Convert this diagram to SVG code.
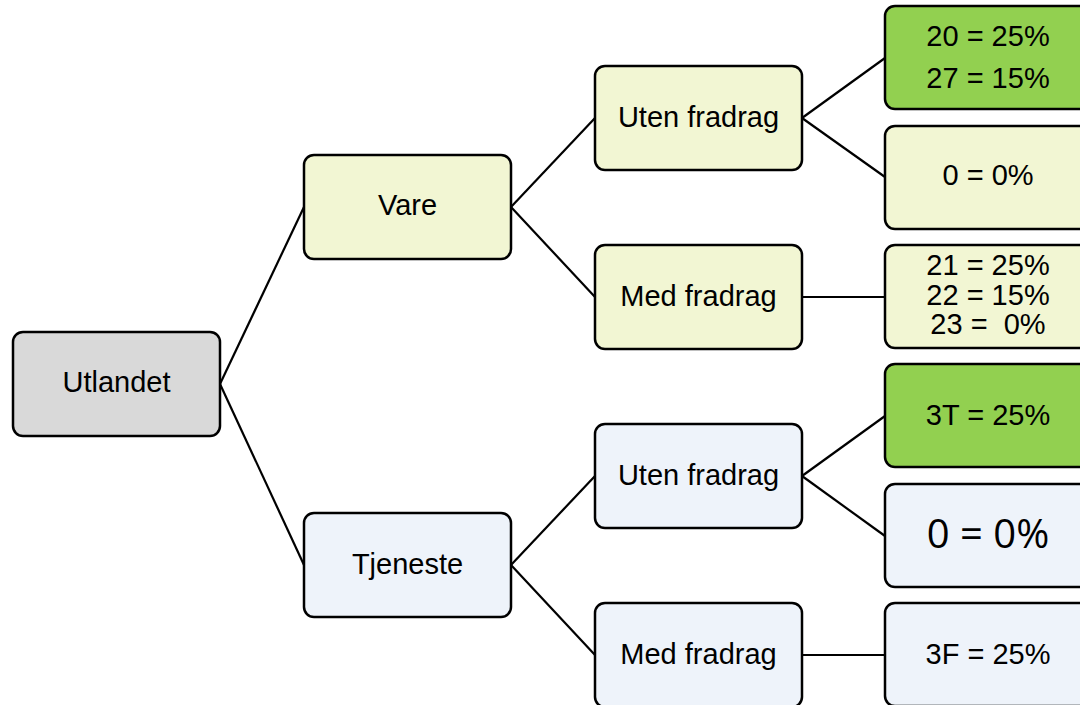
<svg xmlns="http://www.w3.org/2000/svg" width="1080" height="705" viewBox="0 0 1080 705">
<style>
.n{stroke:#000;stroke-width:2.5}
.g{fill:#d9d9d9}
.y{fill:#f2f6d3}
.b{fill:#eef3fa}
.gr{fill:#92d050}
text{font-family:"Liberation Sans",Arial,sans-serif;font-size:29px;fill:#000;text-anchor:middle}
.big{font-family:"Open Sans","Noto Sans",sans-serif;font-size:40px}
.c line{stroke:#000;stroke-width:2.2}
</style>
<rect width="1080" height="705" fill="#fff"/>
<g class="c">
<line x1="220" y1="384" x2="304" y2="207"/>
<line x1="220" y1="384" x2="304" y2="565"/>
<line x1="511" y1="207" x2="595" y2="118"/>
<line x1="511" y1="207" x2="595" y2="297"/>
<line x1="511" y1="565" x2="595" y2="476"/>
<line x1="511" y1="565" x2="595" y2="655"/>
<line x1="802" y1="118" x2="885" y2="58"/>
<line x1="802" y1="118" x2="885" y2="177"/>
<line x1="802" y1="297" x2="885" y2="297"/>
<line x1="802" y1="476" x2="885" y2="416"/>
<line x1="802" y1="476" x2="885" y2="536"/>
<line x1="802" y1="655" x2="885" y2="655"/>
</g>
<g id="utlandet"><rect class="n g" x="13" y="332" width="207" height="104" rx="10"/><text x="116.5" y="392">Utlandet</text></g>
<g id="vare"><rect class="n y" x="304" y="155" width="207" height="104" rx="10"/><text x="407.5" y="215">Vare</text></g>
<g id="tjeneste"><rect class="n b" x="304" y="513" width="207" height="104" rx="10"/><text x="407.5" y="574">Tjeneste</text></g>
<g id="vare-uten"><rect class="n y" x="595" y="66" width="207" height="104" rx="10"/><text x="698.5" y="127">Uten fradrag</text></g>
<g id="vare-med"><rect class="n y" x="595" y="245" width="207" height="104" rx="10"/><text x="698.5" y="306">Med fradrag</text></g>
<g id="tjeneste-uten"><rect class="n b" x="595" y="424" width="207" height="104" rx="10"/><text x="698.5" y="485">Uten fradrag</text></g>
<g id="tjeneste-med"><rect class="n b" x="595" y="603" width="207" height="104" rx="10"/><text x="698.5" y="664">Med fradrag</text></g>
<g id="leaf-20-27"><rect class="n gr" x="885" y="6" width="207" height="103" rx="10"/><text x="988" y="46">20 = 25%</text><text x="988" y="88">27 = 15%</text></g>
<g id="leaf-0-vare"><rect class="n y" x="885" y="126" width="207" height="103" rx="10"/><text x="988" y="185">0 = 0%</text></g>
<g id="leaf-21-23"><rect class="n y" x="885" y="245" width="207" height="103" rx="10"/><text x="988" y="275">21 = 25%</text><text x="988" y="305">22 = 15%</text><text x="988" y="334" xml:space="preserve">23 =  0%</text></g>
<g id="leaf-3T"><rect class="n gr" x="885" y="364" width="207" height="103" rx="10"/><text x="988" y="425">3T = 25%</text></g>
<g id="leaf-0-tjeneste"><rect class="n b" x="885" y="484" width="207" height="103" rx="10"/><text class="big" x="988" y="548">0 = 0%</text></g>
<g id="leaf-3F"><rect class="n b" x="885" y="603" width="207" height="103" rx="10"/><text x="988" y="664">3F = 25%</text></g>
</svg>
